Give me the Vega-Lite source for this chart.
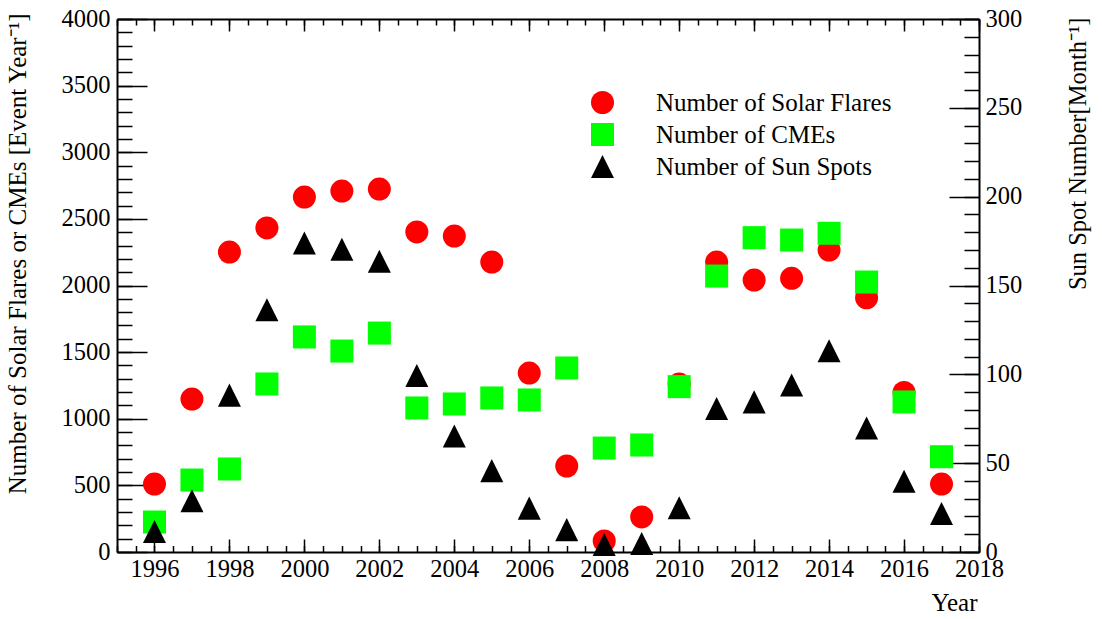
{
  "$schema": "https://vega.github.io/schema/vega-lite/v6.json",
  "width": 862,
  "height": 533,
  "autosize": {"type": "none"},
  "padding": {"left": 117, "top": 19, "right": 123, "bottom": 67},
  "background": "white",
  "config": {
    "font": "Liberation Serif",
    "view": {"stroke": null},
    "axis": {
      "grid": false,
      "domainColor": "black",
      "domainWidth": 2,
      "tickColor": "black",
      "tickWidth": 1.5,
      "labelFont": "Liberation Serif",
      "labelFontSize": 24.5,
      "labelColor": "black",
      "labelFlush": false,
      "labelOverlap": false,
      "titleFont": "Liberation Serif",
      "titleFontWeight": "normal",
      "titleColor": "black"
    },
    "legend": {"rowPadding": 6, "padding": 0}
  },
  "data": {
    "values": [
      {"year": 1996, "series": "Number of Solar Flares", "value": 510},
      {"year": 1997, "series": "Number of Solar Flares", "value": 1148},
      {"year": 1998, "series": "Number of Solar Flares", "value": 2251},
      {"year": 1999, "series": "Number of Solar Flares", "value": 2432},
      {"year": 2000, "series": "Number of Solar Flares", "value": 2664},
      {"year": 2001, "series": "Number of Solar Flares", "value": 2709},
      {"year": 2002, "series": "Number of Solar Flares", "value": 2724},
      {"year": 2003, "series": "Number of Solar Flares", "value": 2402},
      {"year": 2004, "series": "Number of Solar Flares", "value": 2371},
      {"year": 2005, "series": "Number of Solar Flares", "value": 2176},
      {"year": 2006, "series": "Number of Solar Flares", "value": 1343},
      {"year": 2007, "series": "Number of Solar Flares", "value": 645},
      {"year": 2008, "series": "Number of Solar Flares", "value": 83},
      {"year": 2009, "series": "Number of Solar Flares", "value": 263},
      {"year": 2010, "series": "Number of Solar Flares", "value": 1261},
      {"year": 2011, "series": "Number of Solar Flares", "value": 2176},
      {"year": 2012, "series": "Number of Solar Flares", "value": 2041},
      {"year": 2013, "series": "Number of Solar Flares", "value": 2054},
      {"year": 2014, "series": "Number of Solar Flares", "value": 2266},
      {"year": 2015, "series": "Number of Solar Flares", "value": 1908},
      {"year": 2016, "series": "Number of Solar Flares", "value": 1197},
      {"year": 2017, "series": "Number of Solar Flares", "value": 510},
      {"year": 1996, "series": "Number of CMEs", "value": 225},
      {"year": 1997, "series": "Number of CMEs", "value": 540},
      {"year": 1998, "series": "Number of CMEs", "value": 623},
      {"year": 1999, "series": "Number of CMEs", "value": 1261},
      {"year": 2000, "series": "Number of CMEs", "value": 1614},
      {"year": 2001, "series": "Number of CMEs", "value": 1508},
      {"year": 2002, "series": "Number of CMEs", "value": 1643},
      {"year": 2003, "series": "Number of CMEs", "value": 1081},
      {"year": 2004, "series": "Number of CMEs", "value": 1111},
      {"year": 2005, "series": "Number of CMEs", "value": 1156},
      {"year": 2006, "series": "Number of CMEs", "value": 1141},
      {"year": 2007, "series": "Number of CMEs", "value": 1381},
      {"year": 2008, "series": "Number of CMEs", "value": 780},
      {"year": 2009, "series": "Number of CMEs", "value": 803},
      {"year": 2010, "series": "Number of CMEs", "value": 1241},
      {"year": 2011, "series": "Number of CMEs", "value": 2071},
      {"year": 2012, "series": "Number of CMEs", "value": 2359},
      {"year": 2013, "series": "Number of CMEs", "value": 2341},
      {"year": 2014, "series": "Number of CMEs", "value": 2392},
      {"year": 2015, "series": "Number of CMEs", "value": 2026},
      {"year": 2016, "series": "Number of CMEs", "value": 1126},
      {"year": 2017, "series": "Number of CMEs", "value": 715},
      {"year": 1996, "series": "Number of Sun Spots", "value": 11.6},
      {"year": 1997, "series": "Number of Sun Spots", "value": 28.9},
      {"year": 1998, "series": "Number of Sun Spots", "value": 88.3},
      {"year": 1999, "series": "Number of Sun Spots", "value": 136.3},
      {"year": 2000, "series": "Number of Sun Spots", "value": 173.9},
      {"year": 2001, "series": "Number of Sun Spots", "value": 170.4},
      {"year": 2002, "series": "Number of Sun Spots", "value": 163.6},
      {"year": 2003, "series": "Number of Sun Spots", "value": 99.3},
      {"year": 2004, "series": "Number of Sun Spots", "value": 65.3},
      {"year": 2005, "series": "Number of Sun Spots", "value": 45.8},
      {"year": 2006, "series": "Number of Sun Spots", "value": 24.7},
      {"year": 2007, "series": "Number of Sun Spots", "value": 12.6},
      {"year": 2008, "series": "Number of Sun Spots", "value": 4.2},
      {"year": 2009, "series": "Number of Sun Spots", "value": 4.8},
      {"year": 2010, "series": "Number of Sun Spots", "value": 24.9},
      {"year": 2011, "series": "Number of Sun Spots", "value": 80.8},
      {"year": 2012, "series": "Number of Sun Spots", "value": 84.5},
      {"year": 2013, "series": "Number of Sun Spots", "value": 94.0},
      {"year": 2014, "series": "Number of Sun Spots", "value": 113.3},
      {"year": 2015, "series": "Number of Sun Spots", "value": 69.8},
      {"year": 2016, "series": "Number of Sun Spots", "value": 39.8},
      {"year": 2017, "series": "Number of Sun Spots", "value": 21.7}
    ]
  },
  "layer": [
    {
      "transform": [{"filter": "datum.series === 'Number of Solar Flares'"}],
      "mark": {"type": "point", "filled": true, "size": 530, "opacity": 1, "strokeWidth": 0},
      "encoding": {
        "x": {
          "field": "year", "type": "quantitative",
          "scale": {"domain": [1995, 2018], "nice": false, "zero": false},
          "axis": {
            "orient": "bottom",
            "values": [1996, 1998, 2000, 2002, 2004, 2006, 2008, 2010, 2012, 2014, 2016, 2018],
            "format": "d",
            "tickSize": -13,
            "labelPadding": 18,
            "labelFont": "Liberation Serif",
            "labelFontSize": 24.5,
            "title": "Year",
            "titleFont": "Liberation Serif",
            "titleFontSize": 25,
            "titleAlign": "right",
            "titleBaseline": "alphabetic",
            "titleX": 860,
            "titleY": 58
          }
        },
        "y": {
          "field": "value", "type": "quantitative",
          "scale": {"domain": [0, 4000], "nice": false},
          "axis": {
            "orient": "left",
            "values": [0, 500, 1000, 1500, 2000, 2500, 3000, 3500, 4000],
            "format": "d",
            "tickSize": -30,
            "labelPadding": 37,
            "labelFont": "Liberation Serif",
            "labelFontSize": 24.5,
            "title": "Number of Solar Flares or CMEs [Event Year⁻¹]",
            "titleFont": "Liberation Serif",
            "titleFontSize": 25,
            "titleAngle": -90,
            "titleAlign": "right",
            "titleBaseline": "alphabetic",
            "titleX": -92,
            "titleY": -6
          }
        },
        "color": {
          "field": "series", "type": "nominal",
          "scale": {
            "domain": ["Number of Solar Flares", "Number of CMEs", "Number of Sun Spots"],
            "range": ["#ff0000", "#00ff00", "#000000"]
          },
          "legend": {
            "orient": "none",
            "legendX": 473,
            "legendY": 71,
            "title": null,
            "labelFont": "Liberation Serif",
            "labelFontSize": 25,
            "labelColor": "black",
            "labelOffset": 41,
            "labelLimit": 0,
            "symbolSize": 530,
            "symbolStrokeWidth": 0,
            "symbolOpacity": 1
          }
        },
        "shape": {
          "field": "series", "type": "nominal",
          "scale": {
            "domain": ["Number of Solar Flares", "Number of CMEs", "Number of Sun Spots"],
            "range": ["circle", "square", "M0,-1L-1,1L1,1Z"]
          }
        }
      }
    },
    {
      "transform": [{"filter": "datum.series === 'Number of CMEs'"}],
      "mark": {"type": "point", "filled": true, "size": 530, "opacity": 1, "strokeWidth": 0},
      "encoding": {
        "x": {
          "field": "year", "type": "quantitative",
          "scale": {"domain": [1995, 2018], "nice": false, "zero": false},
          "axis": {
            "orient": "bottom",
            "values": [1995, 1995.5, 1996, 1996.5, 1997, 1997.5, 1998, 1998.5, 1999, 1999.5, 2000, 2000.5, 2001, 2001.5, 2002, 2002.5, 2003, 2003.5, 2004, 2004.5, 2005, 2005.5, 2006, 2006.5, 2007, 2007.5, 2008, 2008.5, 2009, 2009.5, 2010, 2010.5, 2011, 2011.5, 2012, 2012.5, 2013, 2013.5, 2014, 2014.5, 2015, 2015.5, 2016, 2016.5, 2017, 2017.5, 2018],
            "labels": false,
            "domain": false,
            "tickSize": -6.5,
            "title": null
          }
        },
        "y": {
          "field": "value", "type": "quantitative",
          "scale": {"domain": [0, 4000], "nice": false},
          "axis": {
            "orient": "left",
            "values": [0, 100, 200, 300, 400, 500, 600, 700, 800, 900, 1000, 1100, 1200, 1300, 1400, 1500, 1600, 1700, 1800, 1900, 2000, 2100, 2200, 2300, 2400, 2500, 2600, 2700, 2800, 2900, 3000, 3100, 3200, 3300, 3400, 3500, 3600, 3700, 3800, 3900, 4000],
            "labels": false,
            "domain": false,
            "tickSize": -15,
            "title": null
          }
        },
        "color": {"field": "series", "type": "nominal"},
        "shape": {"field": "series", "type": "nominal"}
      }
    },
    {
      "transform": [{"filter": "datum.series === 'Number of Sun Spots'"}],
      "mark": {"type": "point", "filled": true, "size": 530, "opacity": 1, "strokeWidth": 0},
      "encoding": {
        "x": {
          "field": "year", "type": "quantitative",
          "scale": {"domain": [1995, 2018], "nice": false, "zero": false},
          "axis": {
            "orient": "top",
            "values": [1996, 1998, 2000, 2002, 2004, 2006, 2008, 2010, 2012, 2014, 2016, 2018],
            "labels": false,
            "tickSize": -12,
            "title": null
          }
        },
        "y": {
          "field": "value", "type": "quantitative",
          "scale": {"domain": [0, 300], "nice": false},
          "axis": {
            "orient": "right",
            "values": [0, 50, 100, 150, 200, 250, 300],
            "format": "d",
            "tickSize": -30,
            "labelPadding": 36,
            "labelFont": "Liberation Serif",
            "labelFontSize": 24.5,
            "title": "Sun Spot Number[Month⁻¹]",
            "titleFont": "Liberation Serif",
            "titleFontSize": 24.5,
            "titleAngle": -90,
            "titleAlign": "right",
            "titleBaseline": "alphabetic",
            "titleX": 106,
            "titleY": -2
          }
        },
        "color": {"field": "series", "type": "nominal"},
        "shape": {"field": "series", "type": "nominal"}
      }
    },
    {
      "transform": [{"filter": "datum.series === 'Number of Sun Spots'"}],
      "mark": {"type": "point", "filled": true, "size": 1, "opacity": 0},
      "encoding": {
        "x": {
          "field": "year", "type": "quantitative",
          "scale": {"domain": [1995, 2018], "nice": false, "zero": false},
          "axis": {
            "orient": "top",
            "values": [1995, 1995.5, 1996, 1996.5, 1997, 1997.5, 1998, 1998.5, 1999, 1999.5, 2000, 2000.5, 2001, 2001.5, 2002, 2002.5, 2003, 2003.5, 2004, 2004.5, 2005, 2005.5, 2006, 2006.5, 2007, 2007.5, 2008, 2008.5, 2009, 2009.5, 2010, 2010.5, 2011, 2011.5, 2012, 2012.5, 2013, 2013.5, 2014, 2014.5, 2015, 2015.5, 2016, 2016.5, 2017, 2017.5, 2018],
            "labels": false,
            "domain": false,
            "tickSize": -6,
            "title": null
          }
        },
        "y": {
          "field": "value", "type": "quantitative",
          "scale": {"domain": [0, 300], "nice": false},
          "axis": {
            "orient": "right",
            "values": [0, 10, 20, 30, 40, 50, 60, 70, 80, 90, 100, 110, 120, 130, 140, 150, 160, 170, 180, 190, 200, 210, 220, 230, 240, 250, 260, 270, 280, 290, 300],
            "labels": false,
            "domain": false,
            "tickSize": -15,
            "title": null
          }
        }
      }
    }
  ],
  "resolve": {
    "scale": {"y": "independent"},
    "axis": {"x": "independent", "y": "independent"}
  }
}
